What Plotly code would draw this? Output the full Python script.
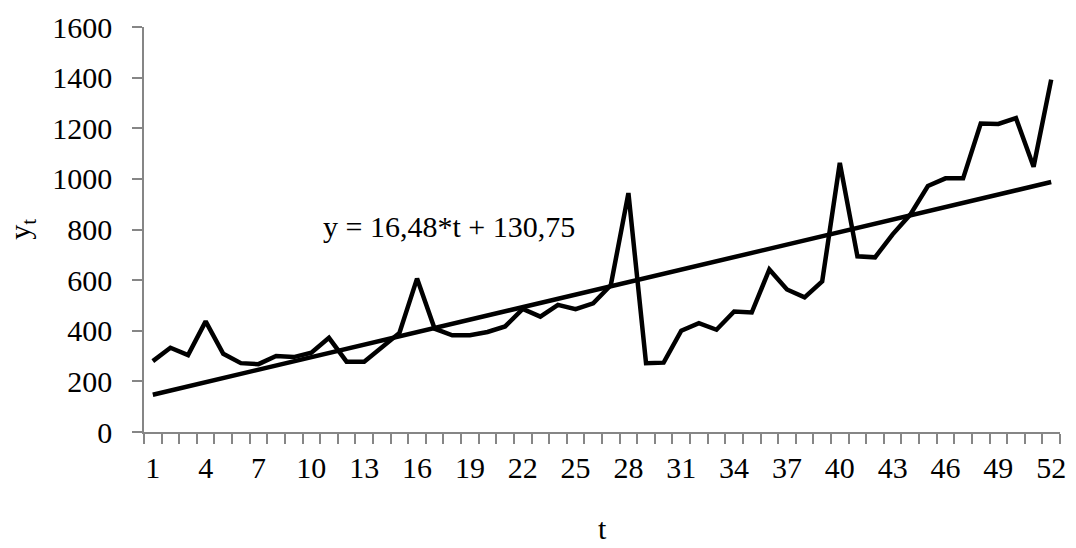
import plotly.graph_objects as go

t_values = list(range(1, 53))
y_values = [280, 333, 304, 437, 309, 272, 268, 300, 296, 313,
            372, 278, 278, 333, 391, 606, 408, 382, 382, 395,
            417, 486, 456, 502, 485, 508, 580, 944, 272, 274,
            400, 430, 404, 476, 472, 642, 563, 532, 595, 1063,
            694, 690, 781, 859, 972, 1002, 1002, 1219, 1217, 1240,
            1048, 1392]
trend_t = [1, 52]
trend_y = [147.2, 987.7]
x_tick_vals = list(range(1, 53, 3))
x_tick_text = [str(v) for v in x_tick_vals]
y_tick_vals = list(range(0, 1601, 200))
equation_text = "y = 16,48*t + 130,75"

FONT = "Liberation Serif, Times New Roman, serif"
GREY = "#868686"

fig = go.Figure()
fig.add_trace(go.Scatter(x=t_values, y=y_values, mode="lines",
                         line=dict(color="black", width=4.5), showlegend=False))
fig.add_trace(go.Scatter(x=trend_t, y=trend_y, mode="lines",
                         line=dict(color="black", width=4.5), showlegend=False))

fig.update_layout(
    width=1076, height=548,
    margin=dict(l=144, r=10, t=22, b=116),
    paper_bgcolor="white", plot_bgcolor="white",
    font=dict(family=FONT, size=30, color="black"),
    xaxis=dict(
        range=[0.5, 52.5], tickvals=x_tick_vals, ticktext=x_tick_text,
        ticks="outside", ticklen=4, tickcolor="rgba(0,0,0,0)",
        ticklabelstandoff=4,
        showline=True, linecolor=GREY, linewidth=1.5,
        showgrid=False, zeroline=False,
        minor=dict(tickvals=[i + 0.5 for i in range(53)], ticks="outside",
                   ticklen=10, tickcolor=GREY, tickwidth=1.5, showgrid=False),
        tickfont=dict(family=FONT, size=30, color="black"),
    ),
    yaxis=dict(
        range=[0, 1600], tickvals=y_tick_vals,
        ticks="outside", ticklen=10, tickcolor=GREY, tickwidth=1.5,
        ticklabelstandoff=14,
        showline=True, linecolor=GREY, linewidth=1.5,
        showgrid=False, zeroline=False,
        tickfont=dict(family=FONT, size=30, color="black"),
    ),
    annotations=[
        dict(text=equation_text, xref="paper", yref="paper",
             x=0.3335, y=0.507, xanchor="center", yanchor="middle",
             showarrow=False, font=dict(family=FONT, size=30, color="black")),
        dict(text="t", xref="paper", yref="paper",
             x=0.501, y=-0.238, xanchor="center", yanchor="middle",
             showarrow=False, font=dict(family=FONT, size=30, color="black")),
        dict(text="y<sub>t</sub>", xref="paper", yref="paper",
             x=-0.134, y=0.5, xanchor="center", yanchor="middle", textangle=-90,
             showarrow=False, font=dict(family=FONT, size=30, color="black")),
    ],
)

fig.write_html("out.html", config={"displayModeBar": False},
               post_script="document.body.style.margin='0';document.body.style.overflow='hidden';")
